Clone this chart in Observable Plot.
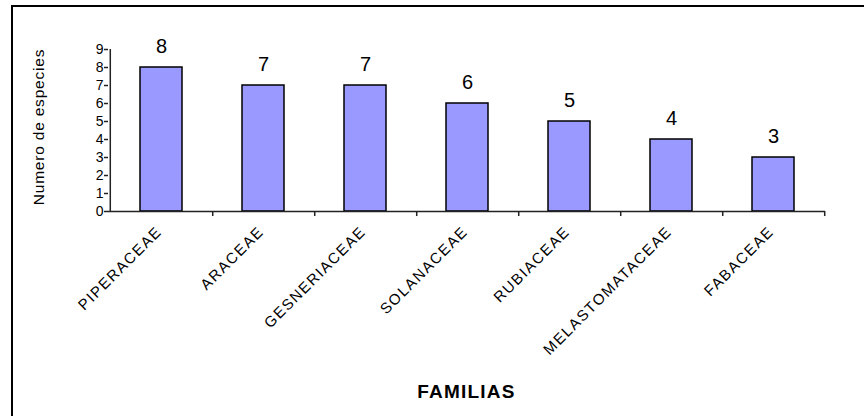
<!DOCTYPE html>
<html>
<head>
<meta charset="utf-8">
<script src="https://cdn.jsdelivr.net/npm/d3@7"></script>
<script src="https://cdn.jsdelivr.net/npm/@observablehq/plot@0.6"></script>
<style>
  html, body { margin: 0; padding: 0; background: #fff; }
  #wrap { position: relative; width: 864px; height: 416px; overflow: hidden; }
  #frame { position: absolute; left: 11px; top: 5px; right: -4px; bottom: -4px;
           border-left: 2px solid #000; border-top: 2px solid #000; pointer-events: none; }
</style>
</head>
<body>
<div id="wrap"><div id="frame"></div></div>
<script>
// Number of species per plant family
const familias = ["PIPERACEAE", "ARACEAE", "GESNERIACEAE", "SOLANACEAE", "RUBIACEAE", "MELASTOMATACEAE", "FABACEAE"];
const especies = [8, 7, 7, 6, 5, 4, 3];
const yTicks = [0, 1, 2, 3, 4, 5, 6, 7, 8, 9];

const data = familias.map((f, i) => ({familia: f, n: especies[i]}));

const W = 864, H = 416;
const mL = 108, mR = 39, mT = 49, mB = 205;
const step = (W - mL - mR) / familias.length;
const font = "'Liberation Sans', Arial, sans-serif";

const chart = Plot.plot({
  width: W,
  height: H,
  marginLeft: mL,
  marginRight: mR,
  marginTop: mT,
  marginBottom: mB,
  style: {fontFamily: font, background: "transparent", color: "#000"},
  x: {domain: familias, padding: 0, axis: null},
  y: {domain: [0, 9], axis: null},
  marks: [
    Plot.barY(data, {x: "familia", y: "n", fill: "#9999ff", stroke: "#000", strokeWidth: 1.5, insetLeft: 30, insetRight: 30}),
    // axis lines
    Plot.ruleY([0], {stroke: "#222", strokeWidth: 1.5}),
    Plot.ruleX([familias[0]], {y1: 0, y2: 9, dx: -step / 2, stroke: "#222", strokeWidth: 1.5}),
    // x tick marks at category boundaries
    Plot.ruleX(familias, {y1: 0, y2: -0.28, dx: step / 2, stroke: "#222", strokeWidth: 1.5}),
    // y axis ticks
    Plot.axisY(yTicks, {anchor: "left", tickSize: 4, text: null, label: null, stroke: "#222", strokeWidth: 1.5}),
    // y tick labels
    Plot.text(yTicks, {y: d => d, text: d => String(d), frameAnchor: "left", textAnchor: "end", dx: -5, fontSize: 14, fill: "#000"}),
    // category labels
    Plot.text(data, {x: "familia", y: 0, text: "familia", rotate: -45, textAnchor: "end", lineAnchor: "bottom",
      dx: step / 2 - 50, dy: 21, fontSize: 15, fill: "#000"}),
    // value labels
    Plot.text(data, {x: "familia", y: "n", text: d => String(d.n), lineAnchor: "bottom", dy: -15, fontSize: 20, fill: "#000"})
  ]
});

const svg = d3.select(chart);

// letter spacing on category labels
svg.selectAll("text").each(function () {
  const t = d3.select(this);
  if (familias.includes(t.text())) t.attr("letter-spacing", 1.5);
});

// y axis title
svg.append("text")
  .attr("transform", `translate(44, ${(mT + (H - mB)) / 2 - 3}) rotate(-90)`)
  .attr("text-anchor", "middle")
  .attr("font-size", 15.5)
  .attr("letter-spacing", 0.8)
  .attr("font-family", font)
  .attr("fill", "#000")
  .text("Numero de especies");
// x axis title
svg.append("text")
  .attr("x", mL + (W - mL - mR) / 2)
  .attr("y", 398)
  .attr("text-anchor", "middle")
  .attr("font-size", 19)
  .attr("font-weight", "bold")
  .attr("letter-spacing", 1.2)
  .attr("font-family", font)
  .attr("fill", "#000")
  .text("FAMILIAS");

document.getElementById("wrap").prepend(chart);
</script>
</body>
</html>
